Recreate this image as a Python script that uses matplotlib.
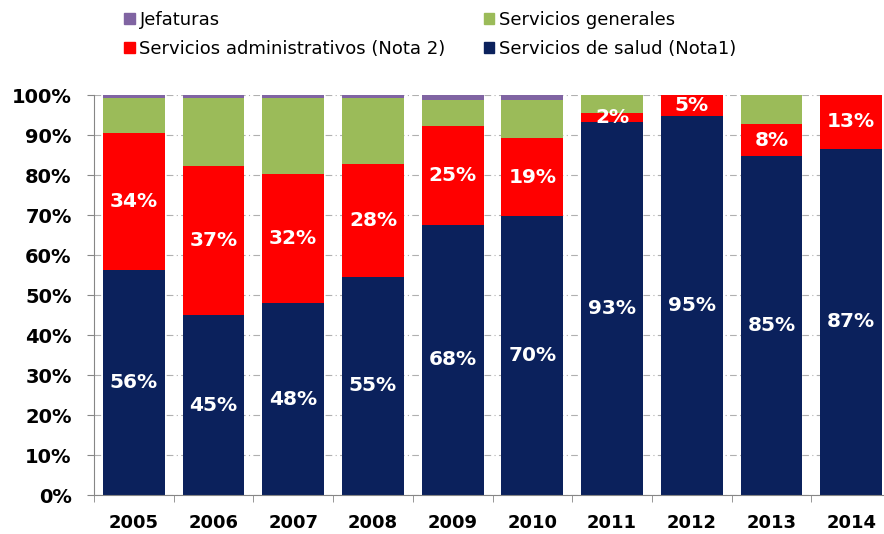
import numpy as np
import matplotlib.pyplot as plt
from matplotlib.patches import Patch

years = ['2005', '2006', '2007', '2008', '2009', '2010', '2011', '2012', '2013', '2014']

# Porcentajes por año (lectura del gráfico)
salud = [56.2, 44.9, 48.0, 54.6, 67.6, 69.8, 93.2, 94.8, 84.7, 86.6]
admin = [34.2, 37.3, 32.2, 28.1, 24.7, 19.4, 2.4, 5.2, 8.0, 13.4]
generales = [8.9, 17.1, 19.1, 16.6, 6.4, 9.5, 4.4, 0.0, 7.3, 0.0]
jefaturas = [0.7, 0.7, 0.7, 0.7, 1.3, 1.3, 0.0, 0.0, 0.0, 0.0]

c_salud = '#0b215c'
c_admin = '#ff0000'
c_gen = '#9bbb59'
c_jef = '#8064a2'

fig = plt.figure(figsize=(8.84, 5.34), dpi=100)
ax = fig.add_axes([0.1063, 0.073, 0.9017, 0.749])

x = np.arange(len(years))
w = 0.775
salud = np.array(salud)
admin = np.array(admin)
generales = np.array(generales)
jefaturas = np.array(jefaturas)

ax.bar(x, salud, w, color=c_salud, zorder=2)
ax.bar(x, admin, w, bottom=salud, color=c_admin, zorder=2)
ax.bar(x, generales, w, bottom=salud + admin, color=c_gen, zorder=2)
ax.bar(x, jefaturas, w, bottom=salud + admin + generales, color=c_jef, zorder=2)

# Etiquetas de porcentaje
for i in range(len(years)):
    ax.text(x[i], salud[i] / 2, f"{salud[i]:.0f}%", ha='center', va='center',
            color='white', fontsize=14.5, fontweight='bold', zorder=3)
    ax.text(x[i], salud[i] + admin[i] / 2, f"{admin[i]:.0f}%", ha='center', va='center',
            color='white', fontsize=14.5, fontweight='bold', zorder=3)

ax.set_xlim(-0.5, len(years) - 0.5)
ax.set_ylim(0, 100)
ax.set_yticks(np.arange(0, 101, 10))
ax.set_yticklabels([f"{v}%" for v in range(0, 101, 10)], fontsize=14, fontweight='bold')
ax.set_xticks(x)
ax.set_xticklabels(years, fontsize=13, fontweight='bold')
ax.set_xticks(np.arange(-0.5, len(years), 1), minor=True)
ax.tick_params(axis='x', which='major', length=0, pad=14)
ax.tick_params(axis='x', which='minor', length=5, color='#868686', direction='out')
ax.tick_params(axis='y', length=5, color='#868686', pad=11)

ax.yaxis.grid(True, color='#b0b0b0', linestyle=(0, (6, 3, 1, 3)), linewidth=0.8, zorder=0)
ax.set_axisbelow(True)
for s in ['top', 'right']:
    ax.spines[s].set_visible(False)
for s in ['left', 'bottom']:
    ax.spines[s].set_color('#868686')

handles = [Patch(color=c_jef), Patch(color=c_admin), Patch(color=c_gen), Patch(color=c_salud)]
labels = ['Jefaturas', 'Servicios administrativos (Nota 2)', 'Servicios generales',
          'Servicios de salud (Nota1)']
fig.legend(handles, labels, ncol=2, loc='upper left', bbox_to_anchor=(0.122, 1.01),
           frameon=False, fontsize=13, handlelength=0.6, handleheight=0.6,
           handletextpad=0.25, columnspacing=2.1, labelspacing=0.6)

fig.savefig('out.png', dpi=100)
